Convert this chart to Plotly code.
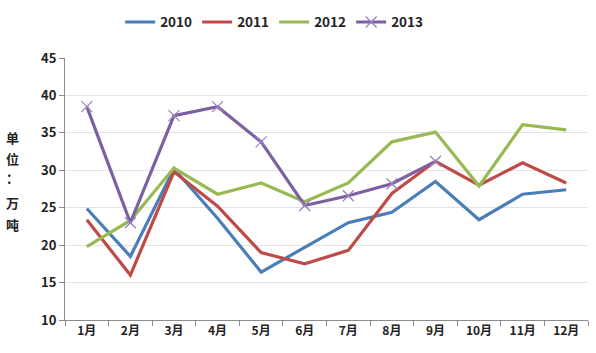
import plotly.graph_objects as go

months = ["1月", "2月", "3月", "4月", "5月", "6月", "7月", "8月", "9月", "10月", "11月", "12月"]
s2010 = [24.9, 18.5, 30.2, 23.6, 16.4, 19.7, 23.0, 24.4, 28.5, 23.4, 26.8, 27.4]
s2011 = [23.4, 16.0, 29.8, 25.2, 19.0, 17.5, 19.3, 26.9, 31.2, 28.0, 31.0, 28.3]
s2012 = [19.8, 23.3, 30.3, 26.8, 28.3, 25.8, 28.3, 33.8, 35.1, 27.9, 36.1, 35.4]
s2013 = [38.5, 23.0, 37.3, 38.5, 33.8, 25.3, 26.6, 28.2, 31.2, None, None, None]

names = ["2010", "2011", "2012", "2013"]
colors = ["#4a7ebb", "#be4b48", "#98b954", "#7d60a0"]
title_chars = ["单", "位", "：", "万", "吨"]

fig = go.Figure()
for name, vals, col in zip(names, [s2010, s2011, s2012, s2013], colors):
    if name == "2013":
        fig.add_trace(go.Scatter(
            x=months, y=vals, name=name, mode="lines+markers",
            line=dict(color=col, width=3.2),
            marker=dict(symbol="x-thin", size=11, line=dict(color="#9a84c0", width=1.3)),
        ))
    else:
        fig.add_trace(go.Scatter(
            x=months, y=vals, name=name, mode="lines",
            line=dict(color=col, width=3.2),
        ))

font_family = "Noto Sans CJK SC, Noto Sans, sans-serif"

# vertical axis title: one character per row
title_y = [0.698, 0.618, 0.542, 0.447, 0.363]
annotations = [
    dict(text=ch, x=-0.101, y=yy, xref="paper", yref="paper", showarrow=False,
         xanchor="center", yanchor="middle",
         font=dict(size=13, color="#222222", weight=600))
    for ch, yy in zip(title_chars, title_y)
]

fig.update_layout(
    width=596, height=353,
    margin=dict(l=65, r=8, t=58, b=33),
    paper_bgcolor="white", plot_bgcolor="white",
    font=dict(family=font_family, size=12, color="#222222"),
    showlegend=True,
    legend=dict(orientation="h", x=0.46, xanchor="center", y=0.937, yanchor="middle",
                xref="container", yref="container",
                font=dict(size=13.5, color="#222222", weight=600), itemwidth=30,
                tracegroupgap=0, entrywidth=32),
    xaxis=dict(
        type="category", showgrid=False, showline=True, linecolor="#8c8c8c", linewidth=1,
        ticks="outside", ticklen=5, tickcolor="#8c8c8c", tickson="boundaries",
        tickfont=dict(size=12, color="#222222", weight=600), range=[-0.5, 11.5],
    ),
    yaxis=dict(
        range=[10, 45], dtick=5, showgrid=True, gridcolor="#e3e3e3", gridwidth=1,
        showline=True, linecolor="#8c8c8c", linewidth=1,
        ticks="outside", ticklen=5, tickcolor="#8c8c8c",
        tickfont=dict(size=13, color="#222222", weight=600), zeroline=False,
    ),
    annotations=annotations,
)

fig.write_html("out.html")
